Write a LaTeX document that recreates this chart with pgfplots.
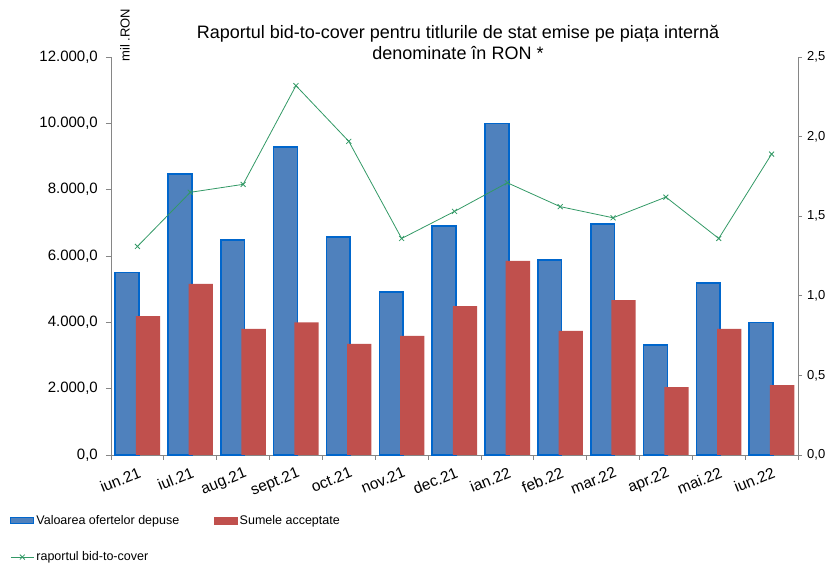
\documentclass[border=0pt]{standalone}
\usepackage{fontspec}
\setmainfont{Liberation Sans}
\usepackage{pgfplots}
\pgfplotsset{compat=1.18}

\definecolor{barblue}{RGB}{79,129,189}
\definecolor{edgeblue}{RGB}{0,102,204}
\definecolor{barred}{RGB}{192,80,77}
\definecolor{linegreen}{RGB}{51,153,102}
\definecolor{axgray}{RGB}{134,134,134}

\pgfplotsset{
  linelegend/.style={legend image code/.code={%
    \draw[mark repeat=2, mark phase=2, ##1] plot coordinates {(0pt,0pt) (11.5pt,0pt) (23pt,0pt)};}},
}

\begin{document}
\begin{tikzpicture}
\begin{axis}[
  scale only axis, width=687pt, height=398pt,
  xmin=-0.5, xmax=12.5, ymin=0, ymax=12000,
  axis y line*=left, axis x line*=bottom,
  axis line style={axgray, line width=0.8pt},
  tick align=outside,
  major tick length=5pt, minor tick length=5pt,
  tick style={axgray, line width=0.8pt},
  xtick={0,...,12},
  xticklabels={iun.21,iul.21,aug.21,sept.21,oct.21,nov.21,dec.21,ian.22,feb.22,mar.22,apr.22,mai.22,iun.22},
  minor xtick={-0.5,0.5,...,12.5},
  major x tick style={draw=none},
  minor x tick style={axgray, line width=0.8pt},
  xticklabel style={rotate=22, anchor=north east, inner sep=0pt, yshift=-6pt, xshift=-2pt,
    font=\fontsize{15.5}{18}\selectfont},
  ytick={0,2000,...,12000},
  scaled y ticks=false,
  /pgf/number format/assume math mode=true,
  yticklabel style={/pgf/number format/fixed, /pgf/number format/fixed zerofill,
    /pgf/number format/precision=1, /pgf/number format/use comma,
    /pgf/number format/1000 sep={.}, inner sep=0pt, xshift=-8pt,
    font=\fontsize{15}{18}\selectfont},
  clip=false,
]
\addplot[ybar, bar width=0.45, bar shift=-0.197, fill=barblue, draw=edgeblue, line width=1.6pt]
  coordinates {(0,5500) (1,8480) (2,6480) (3,9290) (4,6580) (5,4920) (6,6900)
               (7,10000) (8,5880) (9,6960) (10,3320) (11,5190) (12,4000)};
\addplot[ybar, bar width=0.46, bar shift=0.199, fill=barred, draw=none]
  coordinates {(0,4190) (1,5160) (2,3800) (3,4000) (4,3350) (5,3590) (6,4490)
               (7,5850) (8,3740) (9,4670) (10,2050) (11,3800) (12,2110)};
\end{axis}

\begin{axis}[
  scale only axis, width=687pt, height=398pt,
  xmin=-0.5, xmax=12.5, ymin=0, ymax=2.5,
  axis y line*=right, axis x line=none,
  axis line style={axgray, line width=0.8pt},
  tick align=outside,
  major tick length=4pt,
  tick style={axgray, line width=0.8pt},
  ytick={0,0.5,...,2.5},
  /pgf/number format/assume math mode=true,
  yticklabel style={/pgf/number format/fixed, /pgf/number format/fixed zerofill,
    /pgf/number format/precision=1, /pgf/number format/use comma,
    inner sep=0pt, xshift=5pt, font=\fontsize{13}{16}\selectfont},
  legend columns=2,
  legend style={draw=none, fill=none, inner sep=0pt,
    at={(0,0)}, anchor=north west, xshift=-101pt, yshift=-58pt,
    font=\fontsize{12.5}{14}\selectfont,
    /tikz/every even column/.append style={column sep=33pt},
    row sep=22pt, cells={anchor=west}},
  clip=false,
]
\addlegendimage{legend image code/.code={\draw[fill=barblue, draw=edgeblue, line width=1.2pt] (0pt,-3pt) rectangle (23pt,3pt);}}
\addlegendentry{Valoarea ofertelor depuse}
\addlegendimage{legend image code/.code={\fill[barred] (0pt,-3.5pt) rectangle (23pt,3.5pt);}}
\addlegendentry{Sumele acceptate}
\addplot[linegreen, line width=0.8pt, mark=x, mark size=3.5pt, linelegend]
  coordinates {(0,1.31) (1,1.65) (2,1.70) (3,2.32) (4,1.97) (5,1.36) (6,1.53)
               (7,1.71) (8,1.56) (9,1.49) (10,1.62) (11,1.36) (12,1.89)};
\addlegendentry{raportul bid-to-cover}
\end{axis}

\node[anchor=base, font=\fontsize{18}{21}\selectfont] at (347pt,416pt)
  {Raportul bid-to-cover pentru titlurile de stat emise pe piața internă};
\node[anchor=base, font=\fontsize{18}{21}\selectfont] at (347pt,395pt)
  {denominate în RON *};
\node[rotate=90, font=\fontsize{13}{15}\selectfont, inner sep=0pt] at (14pt,420pt) {mil .RON};
\pgfresetboundingbox
\path[use as bounding box] (-111pt,-109pt) rectangle (716pt,455pt);
\end{tikzpicture}
\end{document}
